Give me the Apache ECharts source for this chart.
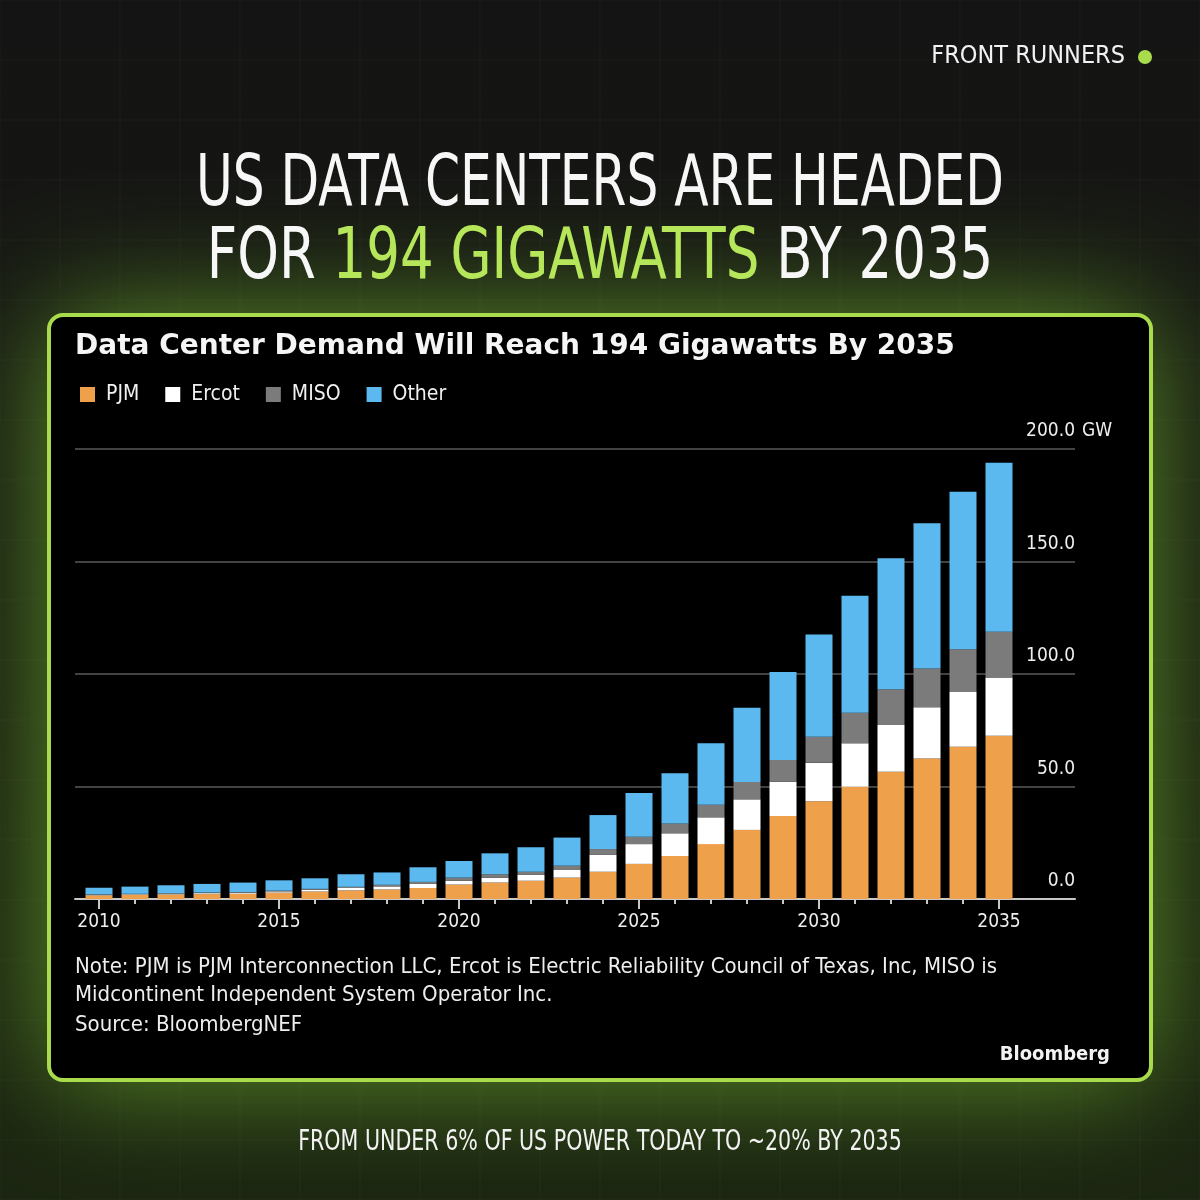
<!DOCTYPE html>
<html>
<head>
<meta charset="utf-8">
<title>US Data Centers - 194 GW by 2035</title>
<script src="https://cdn.jsdelivr.net/npm/echarts@6/dist/echarts.min.js"></script>
<style>
html, body { margin: 0; padding: 0; background: #131313; }
#chart { width: 1200px; height: 1200px; }
</style>
</head>
<body>
<div id="chart"></div>
<script>
// data, GW
const years = ['2010','2011','2012','2013','2014','2015','2016','2017','2018','2019','2020','2021','2022',
	'2023','2024','2025','2026','2027','2028','2029','2030','2031','2032','2033','2034','2035'];
const pjm   = [1.6, 1.8, 2.0, 2.2, 2.3, 2.8, 3.3, 3.8, 4.2, 4.9, 6.4, 7.3, 8.1, 9.5, 12.1, 15.6, 19.1, 24.4, 30.7, 36.9, 43.5, 49.9, 56.6, 62.5, 67.7, 72.6];
const ercot = [0.3, 0.3, 0.4, 0.4, 0.5, 0.6, 0.8, 1.1, 1.4, 1.8, 1.7, 2.2, 2.6, 3.4, 7.5, 8.8, 10.1, 11.9, 13.6, 15.2, 17.1, 19.3, 20.7, 22.7, 24.3, 25.9];
const miso  = [0.2, 0.2, 0.2, 0.3, 0.3, 0.3, 0.4, 0.5, 0.7, 0.9, 1.4, 1.5, 1.4, 1.9, 2.6, 3.3, 4.4, 5.6, 7.7, 9.7, 11.5, 13.6, 15.9, 17.2, 19.0, 20.3];
const other = [2.9, 3.2, 3.5, 3.8, 4.2, 4.6, 4.7, 5.6, 5.5, 6.5, 7.4, 9.3, 10.9, 12.5, 15.1, 19.4, 22.3, 27.3, 33.0, 39.1, 45.5, 52.0, 58.2, 64.6, 70.0, 75.1];
const yTicks = [0, 50, 100, 150, 200];

const seriesNames = ['PJM', 'Ercot', 'MISO', 'Other'];
const seriesColors = ['#efa04b', '#ffffff', '#7b7b7b', '#5cb9ef'];

const LIME = '#a9dc4c';
const NARROW = '"DejaVu Sans Condensed", Roboto, sans-serif';
const BBG = '"DejaVu Sans Condensed", "DejaVu Sans", sans-serif';

const chart = echarts.init(document.getElementById('chart'));

// background pattern (faint grid, 60px)
const bgLines = [];
for (let p = 0; p <= 1200; p += 60) {
	bgLines.push({ type: 'line', z: -9, silent: true, shape: { x1: p, y1: 0, x2: p, y2: 1200 }, style: { stroke: 'rgba(255,255,255,0.035)', lineWidth: 1 } });
	bgLines.push({ type: 'line', z: -9, silent: true, shape: { x1: 0, y1: p, x2: 1200, y2: p }, style: { stroke: 'rgba(255,255,255,0.035)', lineWidth: 1 } });
}

const option = {
	animation: false,
	graphic: [
		{ type: 'rect', z: -10, silent: true, shape: { x: 0, y: 0, width: 1200, height: 1200 },
			style: { fill: new echarts.graphic.LinearGradient(0, 0, 0, 1, [
				{ offset: 0, color: '#141414' }, { offset: 0.6, color: '#171b10' }, { offset: 1, color: '#1a2410' }]) } },
		...bgLines,
		// green glow round the card
		{ type: 'rect', z: -8, silent: true, shape: { x: 49, y: 315, width: 1102, height: 765, r: 14 },
			style: { fill: '#000', shadowBlur: 120, shadowColor: 'rgba(110,175,45,0.8)' } },
		{ type: 'rect', z: -7, silent: true, shape: { x: 49, y: 315, width: 1102, height: 765, r: 14 },
			style: { fill: '#000', stroke: LIME, lineWidth: 4 } },

		{ type: 'text', right: 75, top: 44, style: { text: 'FRONT RUNNERS', fill: '#f2f2f2', font: '25px ' + NARROW } },
		{ type: 'circle', shape: { cx: 1145, cy: 57, r: 7 }, style: { fill: LIME } },

		{ type: 'text', x: 600, y: 186, scaleX: 0.775, style: { text: 'US DATA CENTERS ARE HEADED', fill: '#f7f7f7',
			font: '72px ' + NARROW, align: 'center', verticalAlign: 'middle' } },
		{ type: 'text', x: 600, y: 259, scaleX: 0.818, style: { text: 'FOR {g|194 GIGAWATTS} BY 2035', fill: '#f7f7f7',
			font: '72px ' + NARROW, align: 'center', verticalAlign: 'middle',
			rich: { g: { fill: '#b6e65a', font: '72px ' + NARROW } } } },

		{ type: 'text', x: 75, y: 347, style: { text: 'Data Center Demand Will Reach 194 Gigawatts By 2035', fill: '#f5f5f5',
			font: 'bold 28px "DejaVu Sans", sans-serif', verticalAlign: 'middle' } },

		{ type: 'text', x: 75, y: 967, style: { text: 'Note: PJM is PJM Interconnection LLC, Ercot is Electric Reliability Council of Texas, Inc, MISO is',
			fill: '#eeeeee', font: '22px ' + BBG, verticalAlign: 'middle' } },
		{ type: 'text', x: 75, y: 995, style: { text: 'Midcontinent Independent System Operator Inc.',
			fill: '#eeeeee', font: '22px ' + BBG, verticalAlign: 'middle' } },
		{ type: 'text', x: 75, y: 1025, style: { text: 'Source: BloombergNEF',
			fill: '#eeeeee', font: '22px ' + BBG, verticalAlign: 'middle' } },
		{ type: 'text', x: 1110, y: 1055, style: { text: 'Bloomberg', fill: '#f2f2f2',
			font: 'bold 20px ' + BBG, align: 'right', verticalAlign: 'middle' } },

		{ type: 'text', x: 600, y: 1142, scaleX: 0.79, style: { text: 'FROM UNDER 6% OF US POWER TODAY TO ~20% BY 2035', fill: '#f2f2f2',
			font: '29px ' + NARROW, align: 'center', verticalAlign: 'middle' } }
	],
	legend: {
		left: 75, top: 379,
		itemWidth: 15, itemHeight: 15, itemGap: 26,
		icon: 'rect',
		data: seriesNames,
		textStyle: { color: '#f0f0f0', fontSize: 21, fontFamily: BBG, padding: [0, 0, 0, 6] }
	},
	grid: [
		{ left: 75, right: 125, top: 449, bottom: 301 },
		{ left: 81, right: 183, top: 449, bottom: 301 }
	],
	xAxis: [
		{ gridIndex: 0, type: 'value', min: 0, max: 1, position: 'bottom',
			axisLine: { show: true, lineStyle: { color: '#c8c8c8', width: 2 } },
			axisTick: { show: false }, axisLabel: { show: false }, splitLine: { show: false } },
		{ gridIndex: 1, type: 'category', data: years, position: 'bottom',
			axisLine: { show: false },
			axisTick: { show: true, alignWithLabel: true, interval: 0, length: 5, lineStyle: { color: '#c8c8c8', width: 2 } },
			axisLabel: { interval: 4, color: '#eeeeee', fontSize: 19, fontFamily: BBG, margin: 14 } },
		{ gridIndex: 1, type: 'category', data: years, position: 'bottom',
			axisLine: { show: false },
			axisTick: { show: true, alignWithLabel: true, interval: 4, length: 10, lineStyle: { color: '#c8c8c8', width: 2 } },
			axisLabel: { show: false } }
	],
	yAxis: [
		{ gridIndex: 0, type: 'value', position: 'right', min: yTicks[0], max: yTicks[yTicks.length - 1], interval: 50,
			axisLine: { show: false }, axisTick: { show: false },
			splitLine: { lineStyle: { color: '#585858', width: 1.5 } },
			axisLabel: { inside: true, margin: 0, color: '#eeeeee', fontSize: 19, fontFamily: BBG,
				verticalAlign: 'bottom', padding: [0, 0, 8, 0],
				formatter: v => v.toFixed(1) } },
		{ gridIndex: 1, type: 'value', min: yTicks[0], max: yTicks[yTicks.length - 1], show: false }
	],
	series: [pjm, ercot, miso, other].map((d, i) => ({
		name: seriesNames[i],
		type: 'bar',
		stack: 'total',
		xAxisIndex: 1,
		yAxisIndex: 1,
		barWidth: 27,
		itemStyle: { color: seriesColors[i] },
		data: d
	}))
};

chart.setOption(option);

// the unit after the top tick label
const yTop = chart.convertToPixel({ yAxisIndex: 0 }, yTicks[yTicks.length - 1]);
chart.setOption({
	graphic: option.graphic.concat([
		{ type: 'text', x: 1082, y: yTop - 8, style: { text: 'GW', fill: '#eeeeee', font: '19px ' + BBG, verticalAlign: 'bottom' } }
	])
});
</script>
</body>
</html>
